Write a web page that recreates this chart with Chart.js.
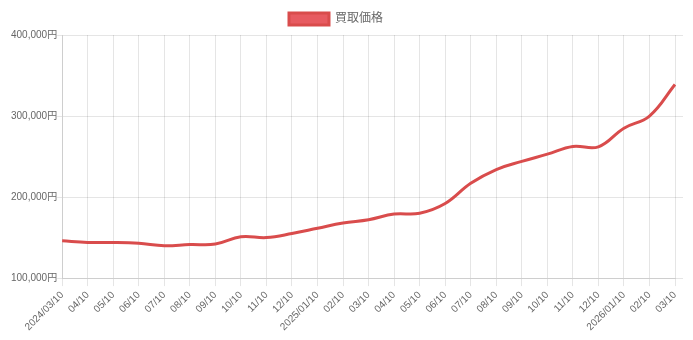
<!DOCTYPE html>
<html>
<head>
<meta charset="utf-8">
<script src="https://cdn.jsdelivr.net/npm/chart.js@4"></script>
<style>
html,body{margin:0;padding:0;background:#fff;}
.chart-box{position:relative;width:693px;height:340px;}
</style>
</head>
<body>
<div class="chart-box"><canvas id="priceChart"></canvas></div>
<script>
// 買取価格の推移
var labels=['2024/03/10','04/10','05/10','06/10','07/10','08/10','09/10','10/10','11/10','12/10',
    '2025/01/10','02/10','03/10','04/10','05/10','06/10','07/10','08/10','09/10','10/10','11/10','12/10',
    '2026/01/10','02/10','03/10'];
var prices=[146000,144000,144000,143000,140000,141500,142000,151000,150000,155000,
    161500,168000,172000,179000,180000,192000,217000,234000,244000,253000,262500,262000,
    285000,300000,339000];
var yTicks=[100000,200000,300000,400000];

Chart.defaults.font.family="'Helvetica Neue', Helvetica, Arial, 'Noto Sans CJK JP', sans-serif";
Chart.defaults.font.size=12;
Chart.defaults.color='#666';

// legend sits a little left of centre
var legendShift={id:'legendShift',afterLayout:function(chart){chart.legend.right-=22;}};

function setTicks(ax){ax.ticks=yTicks.map(function(v){return {value:v};});}

var ctx=document.getElementById('priceChart').getContext('2d');
new Chart(ctx,{
    type:'line',
    data:{labels:labels,datasets:[{
        label:'買取価格',
        data:prices,
        borderColor:'#d94c4c',
        backgroundColor:'rgba(230,82,88,0.95)',
        borderWidth:3,
        pointRadius:0,
        fill:false,
        tension:0.4
    }]},
    plugins:[legendShift],
    options:{
        responsive:true,
        maintainAspectRatio:false,
        animation:false,
        layout:{padding:{top:3,left:11,right:10,bottom:4}},
        plugins:{legend:{position:'top',labels:{padding:10}}},
        scales:{
            x:{ticks:{maxRotation:45,minRotation:45,autoSkip:false,font:{size:10}}},
            y:{min:yTicks[0],max:yTicks[yTicks.length-1],afterBuildTicks:setTicks,
                grid:{tickLength:5},
                ticks:{font:{size:10},padding:0,callback:function(v){return v.toLocaleString('en-US')+'円';}}},
            y2:{position:'right',min:yTicks[0],max:yTicks[yTicks.length-1],afterBuildTicks:setTicks,
                border:{display:false},grid:{drawOnChartArea:false,tickLength:8},
                ticks:{display:false}}
        }
    }
});
</script>
</body>
</html>
